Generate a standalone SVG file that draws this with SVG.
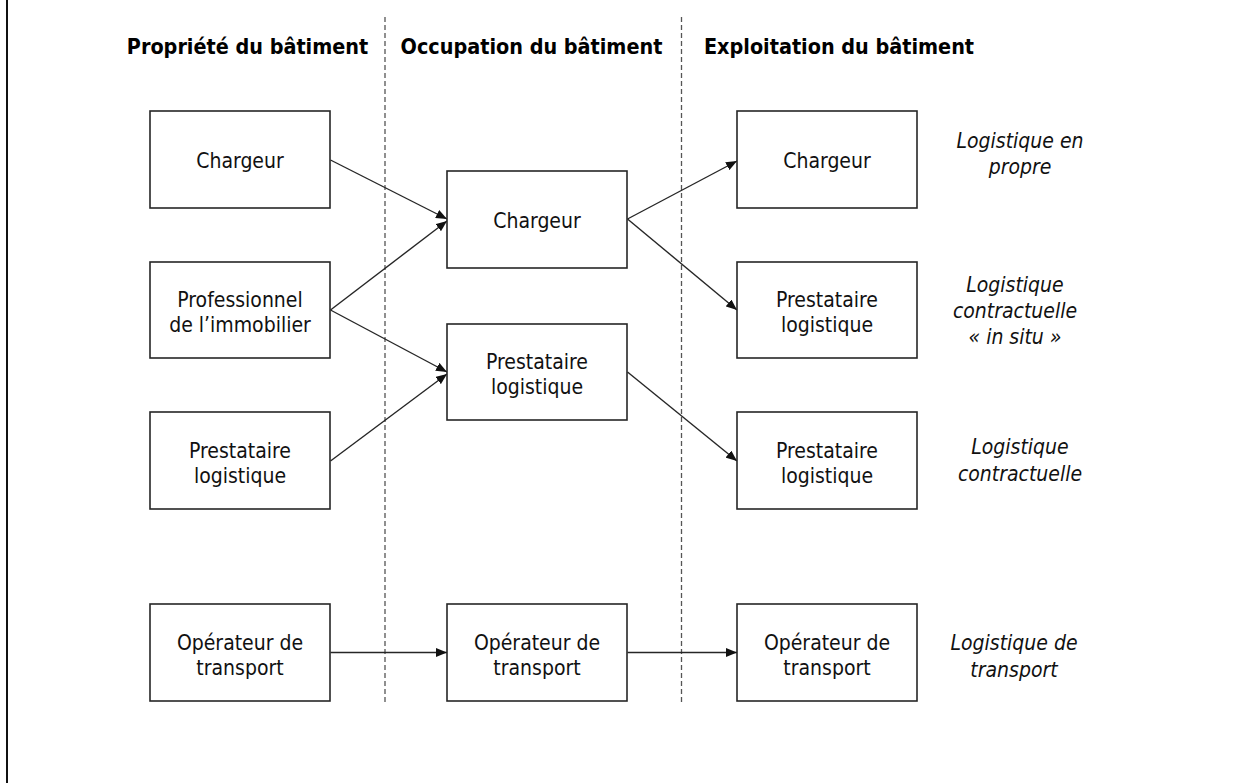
<svg xmlns="http://www.w3.org/2000/svg" width="1245" height="783" viewBox="0 0 1245 783">
<style>
.box{fill:#fff;stroke:#262626;stroke-width:1.6}
.t{font-family:"DejaVu Sans Condensed","DejaVu Sans",sans-serif;font-stretch:condensed;font-size:21px;fill:#111;text-anchor:middle}
.h{font-family:"DejaVu Sans Condensed","DejaVu Sans",sans-serif;font-stretch:condensed;font-size:21.4px;font-weight:bold;fill:#000;text-anchor:middle}
.i{font-family:"DejaVu Sans Condensed","DejaVu Sans",sans-serif;font-stretch:condensed;font-size:21px;font-style:italic;fill:#111;text-anchor:middle}
.c{stroke:#262626;stroke-width:1.4;fill:none;marker-end:url(#ah)}
.d{stroke:#555;stroke-width:1.3;stroke-dasharray:5 3;fill:none}
</style>
<defs>
<marker id="ah" viewBox="0 0 11 9" refX="11" refY="4.5" markerWidth="11" markerHeight="9" markerUnits="userSpaceOnUse" orient="auto">
<path d="M0,0 L11,4.5 L0,9 Z" fill="#111"/>
</marker>
</defs>
<rect width="1245" height="783" fill="#fff"/>
<line x1="7" y1="0" x2="7" y2="783" stroke="#111" stroke-width="2"/>
<g id="separators">
<line class="d" x1="385" y1="17" x2="385" y2="703"/>
<line class="d" x1="681.5" y1="17" x2="681.5" y2="703"/>
</g>
<g id="headers">
<text class="h" x="247.5" y="54">Propriété du bâtiment</text>
<text class="h" x="531.5" y="54">Occupation du bâtiment</text>
<text class="h" x="839" y="54">Exploitation du bâtiment</text>
</g>
<g id="connectors">
<line class="c" x1="330.5" y1="160" x2="447" y2="219"/>
<line class="c" x1="330.5" y1="310" x2="447" y2="221"/>
<line class="c" x1="330.5" y1="310" x2="447" y2="372"/>
<line class="c" x1="330.5" y1="461" x2="447" y2="374"/>
<line class="c" x1="627.5" y1="219" x2="737" y2="161"/>
<line class="c" x1="627.5" y1="219" x2="737" y2="310"/>
<line class="c" x1="627.5" y1="372" x2="737" y2="461"/>
<line class="c" x1="330.5" y1="652.5" x2="447" y2="652.5"/>
<line class="c" x1="627.5" y1="652.5" x2="737" y2="652.5"/>
</g>
<g id="owner-chargeur"><rect class="box" x="150" y="111" width="180" height="97"/><text class="t" x="240" y="168">Chargeur</text></g>
<g id="owner-professionnel"><rect class="box" x="150" y="262" width="180" height="96"/><text class="t" x="240" y="307">Professionnel</text><text class="t" x="240" y="332">de l’immobilier</text></g>
<g id="owner-prestataire"><rect class="box" x="150" y="412" width="180" height="97"/><text class="t" x="240" y="457.5">Prestataire</text><text class="t" x="240" y="482.5">logistique</text></g>
<g id="owner-operateur"><rect class="box" x="150" y="604" width="180" height="97"/><text class="t" x="240" y="649.5">Opérateur de</text><text class="t" x="240" y="674.5">transport</text></g>
<g id="occ-chargeur"><rect class="box" x="447" y="171" width="180" height="97"/><text class="t" x="537" y="228">Chargeur</text></g>
<g id="occ-prestataire"><rect class="box" x="447" y="324" width="180" height="96"/><text class="t" x="537" y="369">Prestataire</text><text class="t" x="537" y="394">logistique</text></g>
<g id="occ-operateur"><rect class="box" x="447" y="604" width="180" height="97"/><text class="t" x="537" y="649.5">Opérateur de</text><text class="t" x="537" y="674.5">transport</text></g>
<g id="exp-chargeur"><rect class="box" x="737" y="111" width="180" height="97"/><text class="t" x="827" y="168">Chargeur</text></g>
<g id="exp-prestataire-insitu"><rect class="box" x="737" y="262" width="180" height="96"/><text class="t" x="827" y="307">Prestataire</text><text class="t" x="827" y="332">logistique</text></g>
<g id="exp-prestataire"><rect class="box" x="737" y="412" width="180" height="97"/><text class="t" x="827" y="457.5">Prestataire</text><text class="t" x="827" y="482.5">logistique</text></g>
<g id="exp-operateur"><rect class="box" x="737" y="604" width="180" height="97"/><text class="t" x="827" y="649.5">Opérateur de</text><text class="t" x="827" y="674.5">transport</text></g>
<g id="labels">
<text class="i" x="1020" y="148">Logistique en</text>
<text class="i" x="1020" y="174">propre</text>
<text class="i" x="1015" y="292">Logistique</text>
<text class="i" x="1015" y="318">contractuelle</text>
<text class="i" x="1015" y="344">« in situ »</text>
<text class="i" x="1020" y="454">Logistique</text>
<text class="i" x="1020" y="481">contractuelle</text>
<text class="i" x="1014" y="650">Logistique de</text>
<text class="i" x="1014" y="677">transport</text>
</g>
</svg>
